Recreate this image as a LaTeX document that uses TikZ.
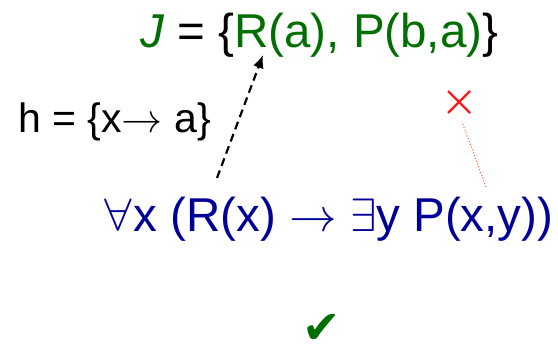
\documentclass[tikz,border=0pt]{standalone}
\usepackage{unicode-math}
\setmainfont{Liberation Sans}
\setmathfont{Latin Modern Math}
\newfontfamily\symfont{DejaVu Sans}
\usepackage{tikz}
\usetikzlibrary{arrows.meta}
\definecolor{factgreen}{RGB}{0,110,0}
\definecolor{ruleblue}{RGB}{0,0,153}
\definecolor{failred}{RGB}{255,25,25}
\definecolor{linkred}{RGB}{255,85,45}

\begin{document}
\begin{tikzpicture}[x=1pt,y=-1pt,
    txt/.style={inner sep=0pt,anchor=base west},
    big/.style={font=\fontsize{47.5}{52}\selectfont}]
            \useasboundingbox (0,0) rectangle (558,353);
            % instance J
            \node[txt,big] (inst) at (140,48) {\textcolor{factgreen}{\textit{J}} = \{\textcolor{factgreen}{R(a), P(b,a)}\}};
            % rule
            \node[txt,big,text=ruleblue] (rule) at (102,232) {$\forall$x (R(x) $\rightarrow$ $\exists$y P(x,y))};
            % homomorphism
            \node[txt,font=\fontsize{41}{45}\selectfont] (hom) at (18,133) {h = \{x$\rightarrow$ a\}};
            % mapping of R(x) onto R(a)
            \coordinate (rfoot) at (217,178);
            \coordinate (rhead) at (263,55);
            \draw[line width=2.2pt,dash pattern=on 8pt off 5pt,-{Latex[length=13pt,width=11pt]}] (rfoot) -- (rhead);
            % no match for P(x,y)
            \coordinate (pfoot) at (486,187);
            \coordinate (pend) at (462,122);
            \draw[linkred,line width=1pt,dotted] (pfoot) -- (pend);
            \draw[failred,line width=2.4pt] (448,91) -- (470,113) (448,113) -- (470,91);
            % verdict
            \node[inner sep=0pt,anchor=base,text depth=0pt,text=factgreen,font=\symfont\fontsize{46}{48}\selectfont] (tick) at (322,343) {✔};
\end{tikzpicture}
\end{document}
